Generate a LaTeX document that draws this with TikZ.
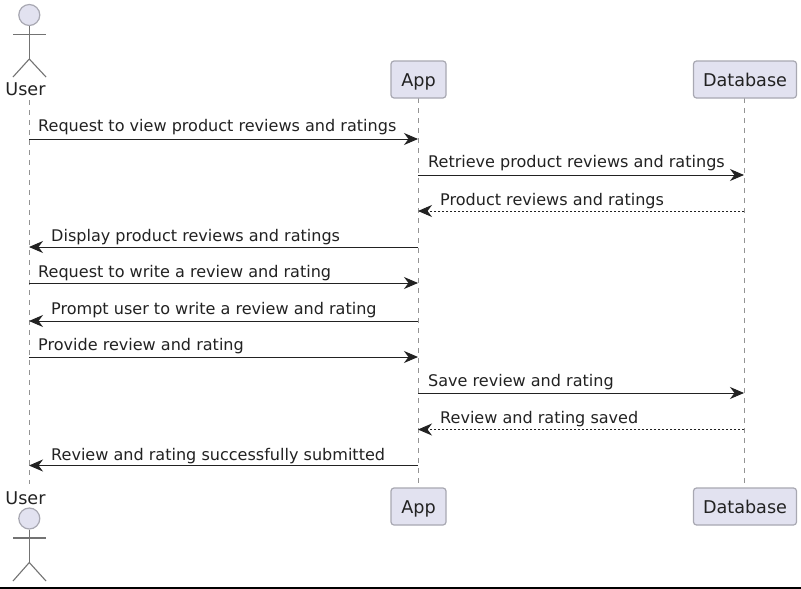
\documentclass[tikz,border=0pt]{standalone}
\usepackage{fontspec}
\setmainfont{DejaVu Sans}
\usetikzlibrary{arrows.meta}
\definecolor{partfill}{HTML}{E2E2F0}
\definecolor{partline}{HTML}{A8A8B2}
\definecolor{inktext}{HTML}{222222}
\tikzset{
  x=1pt,y=-1pt,
  every node/.style={font=\fontsize{16.05}{18}\selectfont,text=inktext,inner sep=0pt},
  namefont/.style={font=\fontsize{17.6}{20}\selectfont},
  part/.style={namefont,draw=partline,fill=partfill,rounded corners=3pt,line width=1.2pt,minimum height=37pt,text height=13pt,text depth=0pt,anchor=center},
  life/.style={draw=gray!85,line width=0.9pt,dash pattern=on 5pt off 5pt},
  actorline/.style={draw=gray!90!black,line width=1.1pt},
  msg/.style={draw=inktext,line width=1pt,-{Stealth[length=14pt,width=12pt,inset=4.5pt,fill=inktext]}},
  reply/.style={msg,line width=0.9pt,dash pattern=on 2pt off 2pt},
  lbl/.style={anchor=base west}
}
\begin{document}
\begin{tikzpicture}
\useasboundingbox (0,0) rectangle (801,589);
\fill[white] (0,0) rectangle (801,589);
% lifeline ends
\coordinate (ut) at (29,100); \coordinate (ub) at (29,484);
\coordinate (at) at (418.5,98); \coordinate (ab) at (418.5,488);
\coordinate (dt) at (744.5,98); \coordinate (db) at (744.5,488);
\draw[life] (ut) -- (ub);
\draw[life] (at) -- (ab);
\draw[life] (dt) -- (db);
% participants
\node[part,minimum width=55pt] (App) at (418.5,79.5) {App};
\node[part,minimum width=103pt] (Database) at (745,79.5) {Database};
\node[part,minimum width=55pt] (AppB) at (418.5,506.5) {App};
\node[part,minimum width=103pt] (DatabaseB) at (745,506.5) {Database};
% actors
\node[circle,draw=partline,fill=partfill,line width=1.2pt,minimum size=21pt] (headT) at (29.3,15) {};
\draw[actorline] (headT.south) -- (29.3,59) coordinate (hipT);
\draw[actorline] (13,34.5) -- (46,34.5);
\draw[actorline] (13,77) -- (hipT) -- (46,77);
\node[namefont] (UserT) at (25.5,89) {User};
\node[circle,draw=partline,fill=partfill,line width=1.2pt,minimum size=21pt] (headB) at (29.3,518.5) {};
\draw[actorline] (headB.south) -- (29.3,562.5) coordinate (hipB);
\draw[actorline] (13,538) -- (46,538);
\draw[actorline] (13,581) -- (hipB) -- (46,581);
\node[namefont] (UserB) at (25.5,498) {User};
% message anchors
\foreach \n/\y in {1/139,2/175,3/211,4/247,5/283,6/321,7/357,8/393,9/429.5,10/465.5}{
  \coordinate (u\n) at (29,\y);
  \coordinate (a\n) at (418,\y);
  \coordinate (d\n) at (744,\y);
}
\draw[msg] (u1) -- (a1);
\draw[msg] (a2) -- (d2);
\draw[reply] (d3) -- (a3);
\draw[msg] (a4) -- (u4);
\draw[msg] (u5) -- (a5);
\draw[msg] (a6) -- (u6);
\draw[msg] (u7) -- (a7);
\draw[msg] (a8) -- (d8);
\draw[reply] (d9) -- (a9);
\draw[msg] (a10) -- (u10);
\node[lbl] (m1) at (38,131) {Request to view product reviews and ratings};
\node[lbl] (m2) at (428,167) {Retrieve product reviews and ratings};
\node[lbl] (m3) at (440,205) {Product reviews and ratings};
\node[lbl] (m4) at (51,241) {Display product reviews and ratings};
\node[lbl] (m5) at (38,277) {Request to write a review and rating};
\node[lbl] (m6) at (51,314) {Prompt user to write a review and rating};
\node[lbl] (m7) at (38,350) {Provide review and rating};
\node[lbl] (m8) at (428,386) {Save review and rating};
\node[lbl] (m9) at (440,423) {Review and rating saved};
\node[lbl] (m10) at (51,460) {Review and rating successfully submitted};
% bottom rule
\coordinate (rl) at (0,588); \coordinate (rr) at (801,588);
\draw[black,line width=2pt] (rl) -- (rr);
\end{tikzpicture}
\end{document}
